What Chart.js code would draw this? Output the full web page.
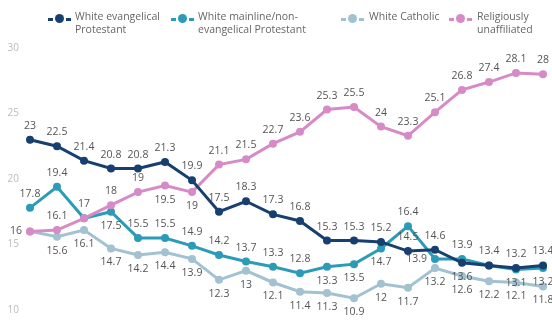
<!DOCTYPE html>
<html>
<head>
<meta charset="utf-8">
<script src="https://cdn.jsdelivr.net/npm/chart.js@4/dist/chart.umd.min.js"></script>
<style>
  body { margin: 0; background: #fff; font-family: "Open Sans", sans-serif; }
  #wrap { position: relative; width: 552px; height: 327px; }
  canvas { position: absolute; left: 0; top: 0; }
  .lg { position: absolute; top: 10px; font-size: 10.5px; line-height: 13px; color: #666; }
  .mk { position: absolute; top: 8px; width: 5px; height: 3px; }
  .dot { position: absolute; top: 4px; width: 9px; height: 9px; border-radius: 50%; }
  .txt { position: absolute; white-space: nowrap; }
</style>
</head>
<body>
<div id="wrap">
  <canvas id="chart" width="552" height="327"></canvas>
  <div id="legend"></div>
</div>
<script>
// values, one per survey wave
const years = ['2006','2007','2008','2009','2010','2011','2012','2013','2014','2015',
  '2016','2017','2018','2019','2020','2021','2022','2023','2024','2025'];
const evangelical = [23, 22.5, 21.4, 20.8, 20.8, 21.3, 19.9, 17.5, 18.3, 17.3,
  16.8, 15.3, 15.3, 15.2, 14.5, 14.6, 13.6, 13.4, 13.2, 13.4];
const mainline = [17.8, 19.4, 17, 17.5, 15.5, 15.5, 14.9, 14.2, 13.7, 13.3,
  12.8, 13.3, 13.5, 14.7, 16.4, 13.9, 13.9, 13.4, 13.1, 13.2];
const catholic = [16, 15.6, 16.1, 14.7, 14.2, 14.4, 13.9, 12.3, 13, 12.1,
  11.4, 11.3, 10.9, 12, 11.7, 13.2, 12.6, 12.2, 12.1, 11.8];
const unaffiliated = [16, 16.1, 17, 18, 19, 19.5, 19, 21.1, 21.5, 22.7,
  23.6, 25.3, 25.5, 24, 23.3, 25.1, 26.8, 27.4, 28.1, 28];
const yTicks = [10, 15, 20, 25, 30];

const seriesNames = [['White evangelical', 'Protestant'], ['White mainline/non-', 'evangelical Protestant'],
  ['White Catholic'], ['Religiously', 'unaffiliated']];
const colors = ['#173f6f', '#2c9bb7', '#a2c1d1', '#d78bc6'];

// where each value label sits: a = above, b = below, l = left, _ = hidden
const labelPos = [
  'aaaaaaaaaaaaaaaabaaa'.split(''),
  'aaabaaaaaaabbbala_bb'.split(''),
  '_bbbbbbbbbbbbbbbbbbb'.split(''),
  'la_aabbaaaaaaaaaaaaa'.split('')
];

const valueLabels = {
  id: 'valueLabels',
  afterDatasetsDraw(chart) {
    const ctx = chart.ctx;
    ctx.save();
    ctx.font = '10.5px "Open Sans"';
    ctx.fillStyle = '#555';
    ctx.textBaseline = 'middle';
    chart.data.datasets.forEach((ds, di) => {
      const meta = chart.getDatasetMeta(di);
      meta.data.forEach((pt, i) => {
        const pos = labelPos[di][i];
        if (pos === '_') return;
        let x = pt.x, y = pt.y;
        ctx.textAlign = 'center';
        if (pos === 'a') y -= 14;
        else if (pos === 'b') y += 14;
        else if (pos === 'l') { x -= 8; ctx.textAlign = 'right'; }
        ctx.fillText(String(ds.data[i]), x, y);
      });
    });
    ctx.restore();
  }
};

const series = [evangelical, mainline, catholic, unaffiliated];
const datasets = series.map((d, i) => ({
  label: seriesNames[i].join(' '),
  data: d,
  borderColor: colors[i],
  backgroundColor: colors[i],
  borderWidth: 3,
  pointRadius: 4,
  pointBorderWidth: 0,
  tension: 0
}));
// light series underneath
datasets[0].order = 1; datasets[3].order = 2; datasets[1].order = 3; datasets[2].order = 4;

new Chart(document.getElementById('chart'), {
  type: 'line',
  data: { labels: years, datasets: datasets },
  options: {
    responsive: false,
    animation: false,
    layout: { padding: { top: 48, bottom: 5, right: 9, left: 0 } },
    plugins: { legend: { display: false }, tooltip: { enabled: false } },
    scales: {
      x: { display: false, offset: false },
      y: {
        min: 10, max: 30,
        afterFit: s => { s.width = 30; },
        afterBuildTicks: s => { s.ticks = yTicks.map(v => ({ value: v })); },
        grid: { display: false, drawTicks: false },
        border: { display: false },
        ticks: { color: '#bbb', font: { family: 'Open Sans', size: 10 }, padding: 11 }
      }
    }
  },
  plugins: [valueLabels]
});

// legend as html text
const legendX = [[48, 75], [171, 198], [341, 369], [449, 477]];
const lg = document.getElementById('legend');
seriesNames.forEach((name, i) => {
  const m = document.createElement('div');
  const c = colors[i];
  m.className = 'lg';
  m.style.left = legendX[i][0] + 'px';
  m.innerHTML = '<div class="mk" style="left:0;background:' + c + '"></div>' +
    '<div class="dot" style="left:7px;background:' + c + '"></div>' +
    '<div class="mk" style="left:18px;background:' + c + '"></div>' +
    '<div class="txt" style="left:' + (legendX[i][1] - legendX[i][0]) + 'px">' + name.join('<br>') + '</div>';
  lg.appendChild(m);
});
</script>
</body>
</html>
